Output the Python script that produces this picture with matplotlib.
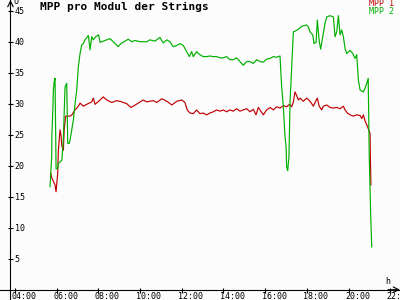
import matplotlib
matplotlib.use("Agg")
import matplotlib.pyplot as plt
from matplotlib.transforms import ScaledTranslation

# ---- data (time in decimal hours, voltage in V) ----
mpp2_t = [5.68, 5.76, 5.77, 5.82, 5.84, 5.88, 5.92, 5.97, 6.05, 6.08, 6.16, 6.25, 6.32, 6.40, 6.48,
          6.53, 6.60, 6.64, 6.72, 6.80, 6.88, 6.96, 7.04, 7.12, 7.20, 7.28, 7.36, 7.47, 7.52, 7.60,
          7.68, 7.76, 7.87, 8.01, 8.08, 8.32, 8.56, 8.80, 8.95, 9.08, 9.28, 9.43, 9.60, 9.76, 10.00,
          10.32, 10.47, 10.71, 10.95, 11.11, 11.28, 11.43, 11.59, 11.76, 11.91, 12.07, 12.23, 12.36,
          12.47, 12.55, 12.71, 12.87, 13.03, 13.19, 13.35, 13.51, 13.67, 13.83, 13.99, 14.15, 14.31,
          14.47, 14.63, 14.79, 14.95, 15.11, 15.27, 15.43, 15.59, 15.75, 15.91, 16.07, 16.23, 16.39,
          16.55, 16.71, 16.79, 16.87, 16.95, 17.00, 17.03, 17.08, 17.14, 17.19, 17.27, 17.35, 17.43,
          17.59, 17.75, 17.99, 18.07, 18.15, 18.28, 18.34, 18.44, 18.50, 18.59, 18.66, 18.76, 18.87,
          18.95, 19.11, 19.27, 19.35, 19.43, 19.51, 19.59, 19.67, 19.75, 19.83, 19.91, 20.07, 20.20,
          20.31, 20.39, 20.47, 20.55, 20.71, 20.79, 20.87, 20.94, 20.99, 21.06, 21.11]
mpp2_v = [16.6, 21.5, 25.0, 29.5, 32.2, 33.5, 34.1, 19.5, 19.6, 20.4, 20.6, 20.9, 24.5, 32.7, 33.3,
          23.6, 23.6, 24.1, 25.8, 27.4, 30.0, 32.2, 36.0, 38.1, 39.5, 39.7, 40.3, 40.8, 41.0, 38.7,
          40.8, 40.3, 40.8, 41.1, 39.9, 40.2, 40.5, 39.7, 39.2, 39.7, 40.1, 40.4, 40.0, 40.2, 40.0,
          40.0, 40.3, 40.1, 40.7, 39.8, 40.3, 40.0, 39.2, 39.4, 39.7, 39.4, 38.4, 37.6,
          38.4, 37.6, 38.4, 37.9, 37.6, 37.6, 37.7, 37.6, 37.6, 37.4, 37.4, 37.6, 37.1,
          37.1, 37.4, 36.8, 36.2, 36.8, 36.8, 36.5, 37.1, 36.8, 36.7, 37.2, 37.3, 37.6,
          37.5, 37.7, 32.7, 29.5, 24.7, 23.1, 19.8, 19.2, 21.5, 30.1, 36.0, 41.6, 41.7,
          42.0, 42.5, 42.7, 42.4, 41.6, 41.1, 39.7, 39.9, 43.5, 40.1, 38.8, 40.8, 43.0,
          44.0, 44.2, 44.0, 40.8, 41.6, 44.2, 41.1, 41.9, 40.8, 38.9, 38.1, 38.6, 38.1,
          37.3, 37.9, 33.8, 32.2, 31.9, 32.5, 33.3, 34.1, 21.5, 12.0, 6.9]

mpp1_t = [5.71, 5.77, 5.92, 5.97, 6.05, 6.08, 6.16, 6.21, 6.24, 6.32, 6.36, 6.43, 6.49, 6.64, 6.73,
          6.88, 7.04, 7.12, 7.28, 7.44, 7.68, 7.76, 7.84, 8.08, 8.23, 8.40, 8.64, 8.88, 9.12, 9.36,
          9.56, 9.67, 9.91, 10.15, 10.32, 10.63, 10.80, 11.04, 11.28, 11.52, 11.76, 12.00, 12.15,
          12.26, 12.39, 12.55, 12.71, 12.87, 13.03, 13.19, 13.35, 13.51, 13.67, 13.83, 13.99, 14.15,
          14.31, 14.47, 14.63, 14.79, 14.95, 15.11, 15.27, 15.43, 15.56, 15.67, 15.75, 15.91, 16.07,
          16.23, 16.39, 16.55, 16.71, 16.87, 17.03, 17.16, 17.27, 17.35, 17.43, 17.51, 17.59, 17.67,
          17.83, 17.99, 18.15, 18.31, 18.39, 18.50, 18.59, 18.71, 18.79, 18.95, 19.11, 19.27, 19.43,
          19.59, 19.75, 19.83, 19.94, 20.07, 20.23, 20.39, 20.55, 20.63, 20.71, 20.79, 20.87, 20.94,
          21.03, 21.04, 21.07]
mpp1_v = [18.8, 18.0, 16.9, 15.8, 18.8, 22.5, 25.8, 24.8, 23.3, 22.5, 25.8, 28.0, 28.0, 28.0, 28.2,
          29.0, 29.6, 30.1, 29.6, 29.9, 30.3, 30.9, 29.9, 30.6, 31.1, 30.6, 30.2, 30.5, 30.3, 30.0,
          29.4, 29.6, 30.1, 30.6, 30.3, 30.5, 30.2, 30.8, 30.4, 29.8, 30.4, 30.6, 30.2,
          29.0, 28.5, 28.4, 29.0, 28.4, 28.5, 28.2, 28.5, 28.7, 29.0, 28.8, 29.0, 28.7,
          29.0, 28.8, 29.2, 28.8, 29.0, 29.2, 28.7, 29.1, 28.2, 29.4, 29.0, 28.2, 29.0,
          29.4, 29.0, 29.5, 29.3, 29.7, 29.5, 29.9, 29.5, 30.3, 31.9, 31.3, 30.6, 30.9,
          30.4, 30.9, 30.4, 29.6, 30.2, 30.9, 29.6, 29.0, 29.6, 29.8, 29.4, 29.3, 29.4,
          29.2, 29.6, 29.0, 28.5, 28.2, 28.0, 28.2, 28.1, 27.6, 28.2, 27.2, 26.6, 26.0,
          25.2, 22.3, 16.9]

x_ticks = [4, 6, 8, 10, 12, 14, 16, 18, 20, 22]
x_labels = ["04:00", "06:00", "08:00", "10:00", "12:00", "14:00", "16:00", "18:00", "20:00", "22:00"]
y_ticks = [5, 10, 15, 20, 25, 30, 35, 40, 45]
series_names = ["MPP 1", "MPP 2"]
title = "MPP pro Modul der Strings"

# ---- figure ----
bg = "#fcfcfc"
red = "#c00000"
green = "#00b000"
mono = "DejaVu Sans Mono"

fig = plt.figure(figsize=(4, 3), dpi=100, facecolor=bg)
ax = fig.add_axes([0, 0, 1, 1], facecolor=bg)

x0_axis = 3.784
ax.set_xlim(3.281, 22.465)
ax.set_ylim(-1.66, 46.73)

ax.plot(mpp1_t, mpp1_v, color=red, lw=0.85, zorder=3)
ax.plot(mpp2_t, mpp2_v, color=green, lw=0.85, zorder=4)

for s in ["top", "right"]:
    ax.spines[s].set_visible(False)
ax.spines["left"].set_position(("data", x0_axis))
ax.spines["bottom"].set_position(("data", 0))
for s in ["left", "bottom"]:
    ax.spines[s].set_linewidth(0.8)
    ax.spines[s].set_color("black")

ax.set_yticks(y_ticks)
ax.set_yticklabels([str(v) for v in y_ticks], fontsize=6, family=mono)
ax.tick_params(axis="y", direction="inout", length=3.6, width=0.8, pad=-4.9)
for lab in ax.get_yticklabels():
    lab.set_ha("left")

ax.set_xticks(x_ticks)
ax.set_xticklabels(x_labels, fontsize=6, family=mono)
ax.tick_params(axis="x", direction="inout", length=3.6, width=0.8, pad=0.2)
shift = ScaledTranslation(-3.6 / 100, 0, fig.dpi_scale_trans)
for lab in ax.get_xticklabels():
    lab.set_ha("left")
    lab.set_transform(lab.get_transform() + shift)

# axis arrows
ax.annotate("", xy=(1.0, 0), xytext=(0.97, 0), xycoords=("axes fraction", "data"),
            arrowprops=dict(arrowstyle="->", lw=0.8, color="black", shrinkA=0, shrinkB=0))
ax.annotate("", xy=(x0_axis, 1.0), xytext=(x0_axis, 0.96), xycoords=("data", "axes fraction"),
            arrowprops=dict(arrowstyle="->", lw=0.8, color="black", shrinkA=0, shrinkB=0))

# unit labels
fig.text(385 / 400, 1 - 281 / 300, "h", ha="left", va="center", fontsize=6, family=mono)
fig.text(13 / 400, 1 - 1 / 300, "U", ha="left", va="center", fontsize=6, family=mono)

# title
fig.text(40 / 400, 1 - 7 / 300, title, ha="left", va="center", fontsize=8,
         family=mono, fontweight="bold")

# legend
fig.text(394 / 400, 1 - 4 / 300, series_names[0], ha="right", va="center", fontsize=6,
         family=mono, color=red)
fig.text(394 / 400, 1 - 12 / 300, series_names[1], ha="right", va="center", fontsize=6,
         family=mono, color=green)

fig.savefig("out.png", dpi=100, facecolor=bg)
